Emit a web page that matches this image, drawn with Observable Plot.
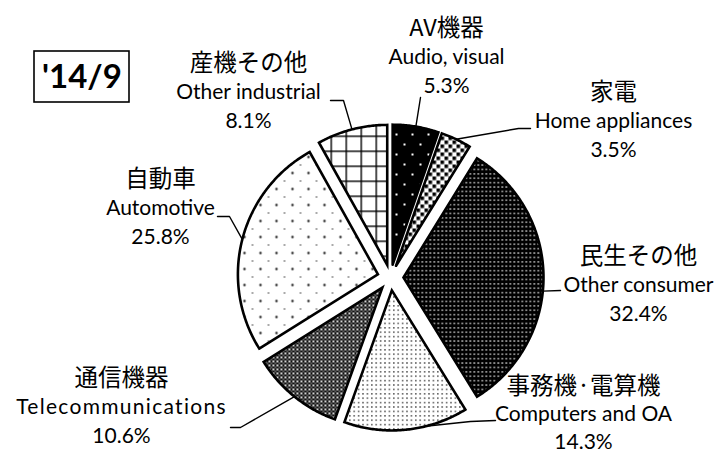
<!DOCTYPE html>
<html><head><meta charset="utf-8">
<script src="https://cdn.jsdelivr.net/npm/d3@7"></script>
<script src="https://cdn.jsdelivr.net/npm/@observablehq/plot@0.6"></script>
<style>body{margin:0;background:#fff}</style>
</head><body><div id="chart"></div>
<script>
// ---- data ----
const categories = ["av", "home", "consumer", "computers", "telecom", "automotive", "industrial"];
const labelsJa = ["AV機器", "家電", "民生その他", "事務機·電算機", "通信機器", "自動車", "産機その他"];
const labelsEn = ["Audio, visual", "Home appliances", "Other consumer", "Computers and OA", "Telecommunications", "Automotive", "Other industrial"];
const shares = [5.3, 3.5, 32.4, 14.3, 10.6, 25.8, 8.1];
const periodLabel = "'14/9";

// ---- layout (pixels) ----
const W = 717, H = 457;
const L = {cx: 390, cy: 277, R: 140, explode: 13, lineGap: 29};
const labelPos = [[446, 28], [613, 92], [638, 256], [583, 386], [121, 378], [160, 179], [248, 63]];
const leaderGapOverride = [29, 29, 29, 28, 29, 29, 29];
const leaderElbows = [
  [[420, 97]],
  [[530, 128], [518, 128]],
  [[560, 290]],
  [[495, 420], [470, 421]],
  [[230, 427], [240, 427]],
  [[217, 216], [229, 216]],
  [[330, 100], [343, 100]]
];
const leaderTweakDeg = [0, 0, 5.6, -8, 0, 0, 0];
const boxRect = {x1: 34, x2: 129, y1: 51, y2: 102};
const patterns = ["p-av", "p-home", "p-consumer", "p-computers", "p-telecom", "p-automotive", "p-industrial"];

const ux = px => (px - L.cx) / L.R;
const uy = py => (L.cy - py) / L.R;

const arcs = d3.pie().sort(null).value(d => d)(shares);
const slices = arcs.map((a, i) => {
  const mid = (a.startAngle + a.endAngle) / 2;
  const ox = L.explode / L.R * Math.sin(mid), oy = L.explode / L.R * Math.cos(mid);
  const pts = [{x: ox, y: oy}];
  const n = Math.max(2, Math.ceil((a.endAngle - a.startAngle) / 0.01));
  for (let k = 0; k <= n; k++) {
    const t = a.startAngle + (a.endAngle - a.startAngle) * k / n;
    pts.push({x: ox + Math.sin(t), y: oy + Math.cos(t)});
  }
  pts.push({x: ox, y: oy});
  pts.push(pts[1]);
  return {i, pts, mid, ox, oy};
});

const leaders = [];
slices.forEach((s, i) => {
  const ang = s.mid + leaderTweakDeg[i] * Math.PI / 180;
  leaderElbows[i].forEach(([px, py]) => leaders.push({k: i, x: ux(px), y: uy(py)}));
  leaders.push({k: i, x: s.ox + Math.sin(ang), y: s.oy + Math.cos(ang)});
});

const texts = [];
labelPos.forEach(([px, py], i) => {
  const g = leaderGapOverride[i];
  texts.push({x: ux(px), y: uy(py), t: labelsJa[i], f: "ja"});
  texts.push({x: ux(px), y: uy(py + g), t: labelsEn[i], f: "en"});
  texts.push({x: ux(px), y: uy(py + 2 * g), t: shares[i].toFixed(1) + "%", f: "en"});
});

const sliceMarks = slices.map((s, i) => Plot.line(s.pts, {
  x: "x", y: "y", fill: `url(#${patterns[i]})`, stroke: "black",
  strokeWidth: 2.6, strokeLinejoin: "miter", strokeMiterlimit: 4, curve: "linear"
}));

const plot = Plot.plot({
  width: W, height: H, margin: 0,
  x: {domain: [ux(0), ux(W)], axis: null},
  y: {domain: [uy(H), uy(0)], axis: null},
  style: {background: "white"},
  marks: [
    ...sliceMarks,
    Plot.line(leaders, {x: "x", y: "y", z: "k", stroke: "black", strokeWidth: 1.4, strokeLinejoin: "miter", curve: "linear"}),
    Plot.text(texts.filter(d => d.f === "ja"), {x: "x", y: "y", text: "t", fontFamily: "Noto Sans CJK JP", fontSize: 23.5, fill: "black"}),
    Plot.text(texts.filter(d => d.f === "en"), {x: "x", y: "y", text: "t", fontFamily: "Lato", fontSize: 21, fill: "black"}),
    Plot.rect([boxRect], {x1: d => ux(d.x1), x2: d => ux(d.x2), y1: d => uy(d.y1), y2: d => uy(d.y2), fill: "none", stroke: "black", strokeWidth: 1.6}),
    Plot.text([periodLabel], {x: ux((boxRect.x1 + boxRect.x2) / 2), y: uy((boxRect.y1 + boxRect.y2) / 2), text: d => d, fontFamily: "Lato", fontWeight: "bold", fontSize: 33, fill: "black"})
  ]
});

// patterns
const svg = d3.select(plot.tagName === "svg" ? plot : plot.querySelector("svg"));
svg.selectAll("text").filter(function() { return this.textContent === "Telecommunications"; }).attr("letter-spacing", "1.3px");
const defs = svg.insert("defs", ":first-child");
function pat(id, w, h) { return defs.append("pattern").attr("id", id).attr("patternUnits", "userSpaceOnUse").attr("width", w).attr("height", h); }
let p;
p = pat("p-av", 16, 20);
p.append("rect").attr("width", 16).attr("height", 20).attr("fill", "black");
p.append("rect").attr("x", 3).attr("y", 3).attr("width", 2).attr("height", 2).attr("fill", "white");
p.append("rect").attr("x", 11).attr("y", 13).attr("width", 2).attr("height", 2).attr("fill", "white");
p = pat("p-home", 8, 8);
p.append("rect").attr("width", 8).attr("height", 8).attr("fill", "white");
p.append("rect").attr("x", 0).attr("y", 0).attr("width", 3.6).attr("height", 3.6).attr("fill", "black");
p.append("rect").attr("x", 4).attr("y", 4).attr("width", 3.6).attr("height", 3.6).attr("fill", "black");
p = pat("p-consumer", 4, 4.4);
p.append("rect").attr("width", 4).attr("height", 4.4).attr("fill", "black");
p.append("rect").attr("x", 1).attr("y", 1).attr("width", 1.5).attr("height", 1.5).attr("fill", "#d8d8d8");
p = pat("p-computers", 4.4, 4.4);
p.append("rect").attr("width", 4.4).attr("height", 4.4).attr("fill", "white");
p.append("rect").attr("x", 1).attr("y", 1).attr("width", 1.4).attr("height", 1.4).attr("fill", "#333");
p = pat("p-telecom", 4, 4);
p.append("rect").attr("width", 4).attr("height", 4).attr("fill", "#111");
p.append("rect").attr("x", 0).attr("y", 0).attr("width", 1.8).attr("height", 1.8).attr("fill", "white");
p.append("rect").attr("x", 2.3).attr("y", 2.3).attr("width", 1.2).attr("height", 1.2).attr("fill", "#ddd");
p = pat("p-automotive", 16, 16);
p.append("rect").attr("width", 16).attr("height", 16).attr("fill", "white");
p.append("circle").attr("cx", 4).attr("cy", 12.5).attr("r", 1.2).attr("fill", "#222");
p.append("rect").attr("x", 11).attr("y", 4).attr("width", 2).attr("height", 1).attr("fill", "#555");
p = pat("p-industrial", 15, 15);
p.append("rect").attr("width", 15).attr("height", 15).attr("fill", "white");
p.append("rect").attr("x", 0).attr("y", 0).attr("width", 15).attr("height", 1.4).attr("fill", "black");
p.append("rect").attr("x", 0).attr("y", 0).attr("width", 1.4).attr("height", 15).attr("fill", "black");

document.getElementById("chart").appendChild(plot);
</script>
</body></html>
